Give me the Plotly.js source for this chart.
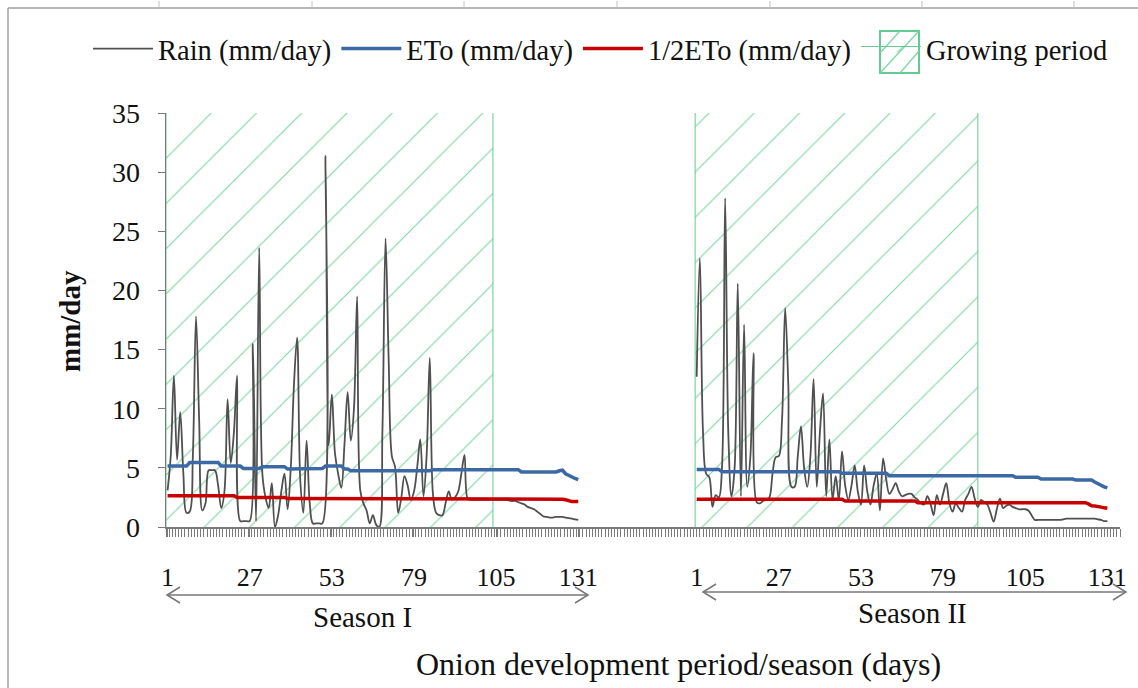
<!DOCTYPE html>
<html><head><meta charset="utf-8">
<script src="https://cdn.plot.ly/plotly-3.0.1.min.js"></script>
<style>html,body{margin:0;padding:0;background:#fff}#chart{width:1138px;height:688px}</style>
</head><body><div id="chart"></div>
<script>
// ---- data ----
const tickDays = [1, 27, 53, 79, 105, 131];
const seasonLabels = ['Season I', 'Season II'];
const growStart = [1, 1];
const growEnd = [104, 90];

const rainSeasonI = [3.1,6,12.8,5.7,9.7,4.5,1.2,1.3,6,17.8,9,1.4,2,4.8,4.8,4.8,3.5,1.6,3,10.8,
5.4,8,12.8,0.5,0.5,0.5,0.5,15.5,0.5,23.6,4.5,2.5,1.6,3.7,0,1,3,4.5,1.5,5,
12,16,4,1.2,7.3,2,0.3,0.3,0.3,0.3,31.4,6.9,11.2,6.2,4.5,3.3,7,11.4,7.3,10,
19.5,3.1,2,1.4,0.3,1,0.2,0,8,24.4,14,6,5.1,1.2,2.5,4.3,3.5,2.3,3,5,
7.4,2.6,6,14.3,2.8,1.2,1.0,1.0,2,3.0,2.3,2.5,3,4.5,6.1,2.4,2.3,2.3,2.3,2.3,
2.3,2.3,2.3,2.3,2.3,2.3,2.3,2.3,2.25,2.2,2.2,2.1,2.0,1.9,1.7,1.6,1.5,1.3,1.1,0.9,
0.85,0.8,0.8,0.85,0.85,0.85,0.8,0.75,0.7,0.65,0.6];
const etoSeasonI = [5.15,5.15,5.15,5.15,5.15,5.15,5.15,5.45,5.45,5.45,5.45,5.45,5.45,5.45,5.45,5.45,5.45,5.15,5.15,5.15,
5.15,5.15,5.15,5.15,4.95,4.95,4.95,4.95,4.95,4.95,5.1,5.1,5.1,5.1,5.1,5.1,5.1,5.1,4.9,4.9,
4.9,4.9,4.9,4.95,4.95,4.95,4.95,4.95,4.95,4.95,5.15,5.15,5.15,5.15,5.15,5.15,4.9,4.9,4.75,4.75,
4.75,4.75,4.75,4.75,4.75,4.75,4.75,4.75,4.75,4.75,4.75,4.75,4.75,4.75,4.75,4.75,4.75,4.75,4.75,4.75,
4.75,4.75,4.75,4.75,4.85,4.85,4.85,4.85,4.85,4.85,4.85,4.85,4.85,4.85,4.85,4.85,4.85,4.85,4.85,4.85,
4.85,4.85,4.85,4.85,4.85,4.85,4.85,4.85,4.85,4.85,4.85,4.85,4.65,4.65,4.65,4.65,4.65,4.65,4.65,4.65,
4.65,4.65,4.65,4.65,4.75,4.8,4.5,4.35,4.2,4.1,4.0];
const halfEtoSeasonI = [2.65,2.65,2.65,2.65,2.65,2.65,2.65,2.65,2.65,2.65,2.65,2.65,2.65,2.65,2.65,2.65,2.65,2.65,2.65,2.65,
2.65,2.65,2.5,2.5,2.5,2.5,2.5,2.5,2.5,2.5,2.5,2.5,2.5,2.5,2.5,2.5,2.5,2.5,2.4,2.4,
2.4,2.4,2.4,2.4,2.4,2.4,2.4,2.4,2.4,2.4,2.4,2.4,2.4,2.4,2.4,2.35,2.35,2.35,2.35,2.35,
2.35,2.35,2.35,2.35,2.35,2.35,2.35,2.35,2.35,2.35,2.35,2.35,2.35,2.35,2.35,2.35,2.35,2.35,2.35,2.35,
2.35,2.35,2.35,2.35,2.35,2.35,2.35,2.35,2.35,2.35,2.35,2.35,2.35,2.35,2.35,2.35,2.35,2.35,2.35,2.35,
2.35,2.35,2.35,2.35,2.35,2.35,2.35,2.35,2.35,2.35,2.35,2.35,2.35,2.35,2.35,2.35,2.35,2.35,2.35,2.35,
2.35,2.35,2.35,2.35,2.35,2.35,2.3,2.2,2.15,2.15,2.15];

const rainSeasonII = [12.7,22.7,8,4.5,4.2,1.7,2.7,2.5,5,27.8,8,2.6,5,20.6,2.6,17.1,3.4,6,14.7,2.1,
2.0,2.2,2.3,2.5,4.5,5.9,6,9,18.5,12,3.4,3.4,6,8.5,5,3.4,6,12.5,3.4,8,
11.3,2.6,7.4,2.3,4.3,2.3,6.4,3.5,2.3,3.5,5.2,3,1.9,5.2,3,1.9,3.5,4.5,1.4,5.8,
4,2.8,3.2,3.7,3,2.6,2.7,2.8,2.8,2.5,2.3,2.0,1.9,2.6,2,1.0,2.7,1.9,2.8,3.7,
2,1.3,2.0,1.6,1.3,2.3,2.8,3.4,2.4,1.7,2.3,2.1,1.9,1.2,0.45,1.5,2.4,1.6,1.8,1.9,
1.7,1.6,1.5,1.5,1.5,1.4,1.0,0.6,0.6,0.6,0.6,0.6,0.6,0.6,0.6,0.6,0.65,0.7,0.7,0.7,
0.7,0.7,0.7,0.7,0.7,0.7,0.7,0.65,0.6,0.5,0.5];
const etoSeasonII = [4.87,4.87,4.87,4.87,4.87,4.87,4.87,4.87,4.68,4.68,4.68,4.68,4.68,4.68,4.68,4.68,4.68,4.68,4.68,4.68,
4.68,4.68,4.68,4.68,4.68,4.68,4.68,4.68,4.68,4.68,4.68,4.68,4.68,4.68,4.68,4.68,4.68,4.68,4.68,4.68,
4.68,4.68,4.68,4.68,4.68,4.68,4.54,4.54,4.54,4.54,4.54,4.54,4.54,4.54,4.54,4.54,4.54,4.54,4.54,4.54,
4.54,4.34,4.34,4.34,4.34,4.34,4.34,4.34,4.34,4.34,4.34,4.34,4.34,4.34,4.34,4.34,4.34,4.34,4.34,4.34,
4.34,4.34,4.34,4.34,4.34,4.34,4.34,4.34,4.34,4.34,4.34,4.34,4.34,4.34,4.34,4.34,4.34,4.34,4.34,4.34,
4.34,4.2,4.2,4.2,4.2,4.2,4.2,4.2,4.2,4.06,4.06,4.06,4.06,4.06,4.06,4.06,4.06,4.06,4.06,4.06,
3.97,3.97,3.97,3.97,3.97,3.97,3.8,3.65,3.5,3.4,3.3];
const halfEtoSeasonII = [2.34,2.34,2.34,2.34,2.34,2.34,2.34,2.34,2.34,2.34,2.34,2.34,2.34,2.34,2.34,2.34,2.34,2.34,2.34,2.34,
2.34,2.34,2.34,2.34,2.34,2.34,2.34,2.34,2.34,2.34,2.34,2.34,2.34,2.34,2.34,2.34,2.34,2.34,2.34,2.34,
2.34,2.34,2.34,2.34,2.34,2.34,2.34,2.2,2.2,2.2,2.2,2.2,2.2,2.2,2.2,2.2,2.2,2.2,2.2,2.2,
2.2,2.2,2.2,2.2,2.2,2.2,2.2,2.2,2.2,2.2,2.06,2.06,2.06,2.06,2.06,2.06,2.06,2.06,2.06,2.06,
2.06,2.06,2.06,2.06,2.06,2.06,2.06,2.06,2.06,2.06,2.06,2.06,2.06,2.06,2.06,2.06,2.06,2.06,2.06,2.06,
2.06,2.06,2.06,2.06,2.06,2.06,2.06,2.06,2.06,2.06,2.06,2.06,2.06,2.06,2.06,2.06,2.06,2.06,2.06,2.06,
2.06,2.06,2.06,2.06,1.95,1.8,1.77,1.75,1.68,1.62,1.58];

// ---- layout constants ----
const SHIFT_II = 167.5;       // where season II starts on the shared day axis
const AX_MIN = 0.5, AX_MAX = 302.5;
const PLOT_L = 166, PLOT_R = 1120, PLOT_T = 113, PLOT_B = 527;
const FONT = 'Liberation Serif';
const px = v => (v - PLOT_L) / (PLOT_R - PLOT_L);
const py = v => (PLOT_B - v) / (PLOT_B - PLOT_T);

function positions(n, shift) { const a = []; for (let d = 1; d <= n; d++) a.push(d + shift); return a; }
function joined(a, b) {
  return {
    x: positions(a.length, 0).concat([150]).concat(positions(b.length, SHIFT_II)),
    y: a.concat([null]).concat(b)
  };
}
const rain = joined(rainSeasonI, rainSeasonII);
const eto = joined(etoSeasonI, etoSeasonII);
const half = joined(halfEtoSeasonI, halfEtoSeasonII);

const shifts = [0, SHIFT_II];
const gx = [], gy = [];
for (let i = 0; i < 2; i++) {
  const a = growStart[i] - 0.5 + shifts[i], b = growEnd[i] + shifts[i];
  gx.push(a, b, b, a, a, null);
  gy.push(-1, -1, 36, 36, -1, null);
}

const tickvals = [], ticktext = [];
shifts.forEach(s => tickDays.forEach(d => { tickvals.push(d + s); ticktext.push(String(d)); }));

const HATCH = 'rgb(125,214,165)';
const EDGE = 'rgb(100,202,145)';
const traces = [
  {x: gx, y: gy, type: 'scatter', mode: 'lines', name: 'Growing period', legendrank: 4,
   fill: 'toself', fillcolor: 'rgba(0,0,0,0)',
   fillpattern: {shape: '/', size: 32, solidity: 0.035, fgcolor: HATCH, bgcolor: 'rgba(0,0,0,0)'},
   line: {color: EDGE, width: 1}, hoverinfo: 'skip'},
  {x: rain.x, y: rain.y, type: 'scatter', mode: 'lines', name: 'Rain (mm/day)', legendrank: 1,
   line: {color: '#505050', width: 1.8, shape: 'spline', smoothing: 1}},
  {x: eto.x, y: eto.y, type: 'scatter', mode: 'lines', name: 'ETo (mm/day)', legendrank: 2,
   line: {color: 'rgb(60,105,165)', width: 3.5}},
  {x: half.x, y: half.y, type: 'scatter', mode: 'lines', name: '1/2ETo (mm/day)', legendrank: 3,
   line: {color: 'rgb(200,0,0)', width: 3.5}}
];

const grey = '#7a7a7a';
const shapes = [];
// outer frame (left & top)
shapes.push({type: 'line', xref: 'paper', yref: 'paper', x0: px(8), x1: px(1140), y0: py(8), y1: py(8), line: {color: '#a0a0a0', width: 1.5}});
shapes.push({type: 'line', xref: 'paper', yref: 'paper', x0: px(8), x1: px(8), y0: py(8), y1: py(690), line: {color: '#a0a0a0', width: 1.5}});
[159, 312, 464, 617, 770, 922, 1074].forEach(t => shapes.push({type: 'line', xref: 'paper', yref: 'paper', x0: px(t), x1: px(t), y0: py(1), y1: py(8), line: {color: '#c0c0c0', width: 1}}));
// season arrows
function arrow(xa, xb, yy) {
  shapes.push({type: 'line', xref: 'paper', yref: 'paper', x0: px(xa), x1: px(xb), y0: py(yy), y1: py(yy), line: {color: '#777', width: 1.5}});
  shapes.push({type: 'path', xref: 'paper', yref: 'paper', line: {color: '#777', width: 1.5},
    path: `M${px(xa + 13)},${py(yy - 8)} L${px(xa)},${py(yy)} L${px(xa + 13)},${py(yy + 8)}`});
  shapes.push({type: 'path', xref: 'paper', yref: 'paper', line: {color: '#777', width: 1.5},
    path: `M${px(xb - 13)},${py(yy - 8)} L${px(xb)},${py(yy)} L${px(xb - 13)},${py(yy + 8)}`});
}
arrow(167, 588, 595);
arrow(703, 1126, 592);

// hatched key box for the "Growing period" legend entry
const KB = {x0: 880, x1: 919, y0: 31, y1: 73};
shapes.push({type: 'rect', xref: 'paper', yref: 'paper', x0: px(KB.x0), x1: px(KB.x1), y0: py(KB.y1), y1: py(KB.y0),
  line: {color: EDGE, width: 2}, fillcolor: 'rgba(0,0,0,0)'});
[[KB.x0, KB.y0 + 22, KB.x0 + 20, KB.y0], [KB.x0, KB.y1, KB.x1, KB.y0], [KB.x0 + 20, KB.y1, KB.x1, KB.y1 - 22]].forEach(s =>
  shapes.push({type: 'line', xref: 'paper', yref: 'paper', x0: px(s[0]), y0: py(s[1]), x1: px(s[2]), y1: py(s[3]), line: {color: HATCH, width: 1.3}}));

const annotations = [
  {text: 'Onion development period/season (days)', xref: 'paper', yref: 'paper', x: px(678), y: py(664),
   showarrow: false, font: {family: FONT, size: 32, color: '#111'}, xanchor: 'center', yanchor: 'middle'},
  {text: seasonLabels[0], xref: 'paper', yref: 'paper', x: px(362), y: py(617), showarrow: false,
   font: {family: FONT, size: 29, color: '#111'}, xanchor: 'center', yanchor: 'middle'},
  {text: seasonLabels[1], xref: 'paper', yref: 'paper', x: px(912), y: py(613), showarrow: false,
   font: {family: FONT, size: 29, color: '#111'}, xanchor: 'center', yanchor: 'middle'},
  {text: '<b>mm/day</b>', xref: 'paper', yref: 'paper', x: px(70), y: py(321), showarrow: false, textangle: -90,
   font: {family: FONT, size: 29, color: '#111'}, xanchor: 'center', yanchor: 'middle'}
];

const layout = {
  width: 1138, height: 688,
  margin: {l: PLOT_L, r: 1138 - PLOT_R, t: PLOT_T, b: 688 - PLOT_B, pad: 0},
  paper_bgcolor: '#fff', plot_bgcolor: '#fff',
  font: {family: FONT, color: '#111'},
  showlegend: true,
  legend: {orientation: 'h', x: px(88), xanchor: 'left', y: py(49), yanchor: 'middle',
    font: {family: FONT, size: 28.5, color: '#111'}, bgcolor: 'rgba(0,0,0,0)', itemwidth: 60, traceorder: 'normal'},
  xaxis: {type: 'linear', range: [AX_MIN, AX_MAX], showgrid: false, zeroline: false,
    showline: true, linecolor: grey, linewidth: 1.5,
    tickmode: 'array', tickvals: tickvals, ticktext: ticktext,
    ticks: 'outside', ticklen: 8, tickcolor: grey, ticklabelstandoff: 18,
    tickfont: {family: FONT, size: 26, color: '#111'},
    minor: {tickmode: 'linear', tick0: 0.5, dtick: 1, ticks: 'outside', ticklen: 8, tickcolor: grey, tickwidth: 1, showgrid: false},
    fixedrange: true},
  yaxis: {range: [0, 35], dtick: 5, tick0: 0, showgrid: false, zeroline: false,
    showline: true, linecolor: grey, linewidth: 1.5,
    ticks: 'outside', ticklen: 7, tickcolor: grey, ticklabelstandoff: 12,
    tickfont: {family: FONT, size: 28, color: '#111'}, fixedrange: true},
  shapes: shapes,
  annotations: annotations
};

Plotly.newPlot('chart', traces, layout, {displayModeBar: false, staticPlot: true});
</script>
</body></html>
